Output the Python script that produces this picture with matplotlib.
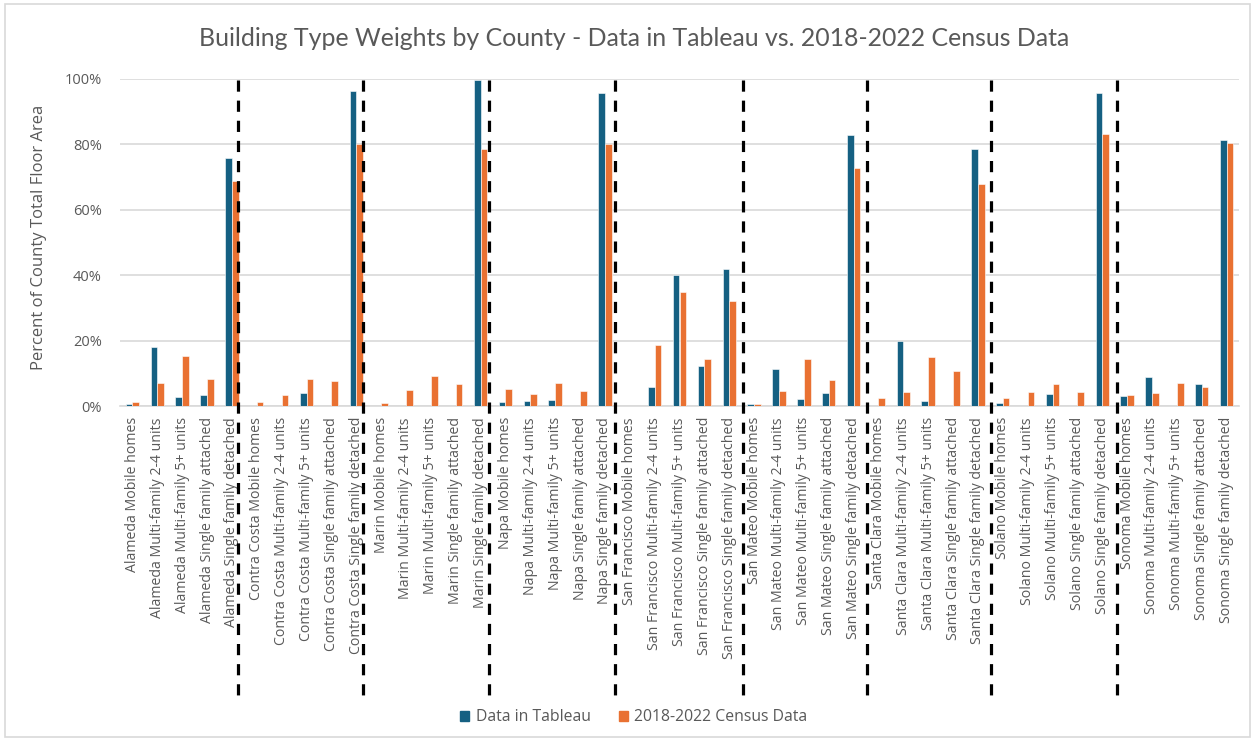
import matplotlib.pyplot as plt
import numpy as np
from matplotlib.patches import Rectangle, Patch

plt.rcParams['font.family'] = ['Open Sans', 'DejaVu Sans']

counties = ['Alameda', 'Contra Costa', 'Marin', 'Napa', 'San Francisco',
            'San Mateo', 'Santa Clara', 'Solano', 'Sonoma']
types = ['Mobile homes', 'Multi-family 2-4 units', 'Multi-family 5+ units',
         'Single family attached', 'Single family detached']
labels = [f'{c} {t}' for c in counties for t in types]

# percent of county total floor area
tableau = [0.6, 18.1, 2.7, 3.3, 75.7,
           0.0, 0.0, 3.9, 0.0, 96.3,
           0.0, 0.0, 0.0, 0.0, 99.8,
           1.2, 1.4, 1.7, 0.0, 95.7,
           0.0, 5.8, 40.1, 12.2, 42.0,
           0.6, 11.3, 2.0, 3.9, 82.8,
           0.0, 19.9, 1.4, 0.0, 78.6,
           0.9, 0.0, 3.6, 0.0, 95.7,
           3.0, 8.9, 0.0, 6.7, 81.4]
census = [1.1, 6.9, 15.3, 8.3, 68.8,
          1.1, 3.3, 8.3, 7.5, 80.1,
          0.9, 5.0, 9.2, 6.6, 78.6,
          5.3, 3.6, 6.9, 4.5, 80.1,
          0.0, 18.6, 34.9, 14.5, 32.2,
          0.6, 4.5, 14.5, 8.0, 72.8,
          2.4, 4.4, 14.9, 10.7, 68.0,
          2.4, 4.2, 6.7, 4.2, 83.1,
          3.3, 4.0, 6.9, 5.9, 80.3]

# hand-drawn county separators (category units)
separators = [4.26, 9.29, 14.35, 19.4, 24.55, 29.56, 34.52, 39.58]

blue = '#156082'
orange = '#E97132'
grey = '#595959'

fig = plt.figure(figsize=(12.55, 7.40), dpi=100)
fig.patches.append(Rectangle((0.004, 0.004), 0.992, 0.99, transform=fig.transFigure,
                             fill=False, edgecolor='#d9d9d9', lw=1.2))
ax = fig.add_axes([120 / 1255, 334 / 740, 1119 / 1255, 327 / 740])

x = np.arange(len(labels))
w = 0.27
ax.bar(x - w / 2, tableau, w, color=blue, edgecolor='white', linewidth=0.4, zorder=3)
ax.bar(x + w / 2, census, w, color=orange, edgecolor='white', linewidth=0.4, zorder=3)

ax.set_xlim(-0.5, len(labels) - 0.5)
ax.set_ylim(0, 100)
ax.set_yticks(np.arange(0, 101, 20))
ax.set_yticklabels([f'{v}%' for v in range(0, 101, 20)])
ax.set_xticks(x)
ax.set_xticklabels(labels, rotation=90)
ax.tick_params(axis='both', length=0, colors=grey, labelsize=10.5)
ax.tick_params(axis='x', labelsize=10.2, pad=8)
ax.tick_params(axis='y', pad=13)
ax.grid(axis='y', color='#d9d9d9', lw=1.2, zorder=0)
for s in ['top', 'right', 'left']:
    ax.spines[s].set_visible(False)
ax.spines['bottom'].set_color('#d9d9d9')
ax.spines['bottom'].set_linewidth(1.2)

for sx in separators:
    ax.plot([sx, sx], [99.6, -90.5], color='black', lw=2.3,
            linestyle=(0, (3.5, 2.8)), clip_on=False, zorder=5)

ax.set_ylabel('Percent of County Total Floor Area', color=grey, fontsize=12)
ax.yaxis.set_label_coords(-0.065, 0.516)
fig.text(0.505, 0.948, 'Building Type Weights by County - Data in Tableau vs. 2018-2022 Census Data',
         ha='center', va='center', fontsize=17.9, color=grey, family=['Lato', 'DejaVu Sans'])

handles = [Patch(color=blue, label='Data in Tableau'),
           Patch(color=orange, label='2018-2022 Census Data')]
fig.legend(handles=handles, loc='center', bbox_to_anchor=(0.505, 0.031), ncol=2,
           frameon=False, fontsize=11.3, labelcolor=grey, handlelength=0.6,
           handleheight=0.6, handletextpad=0.4, columnspacing=1.8)

fig.savefig('out.png', dpi=100)
